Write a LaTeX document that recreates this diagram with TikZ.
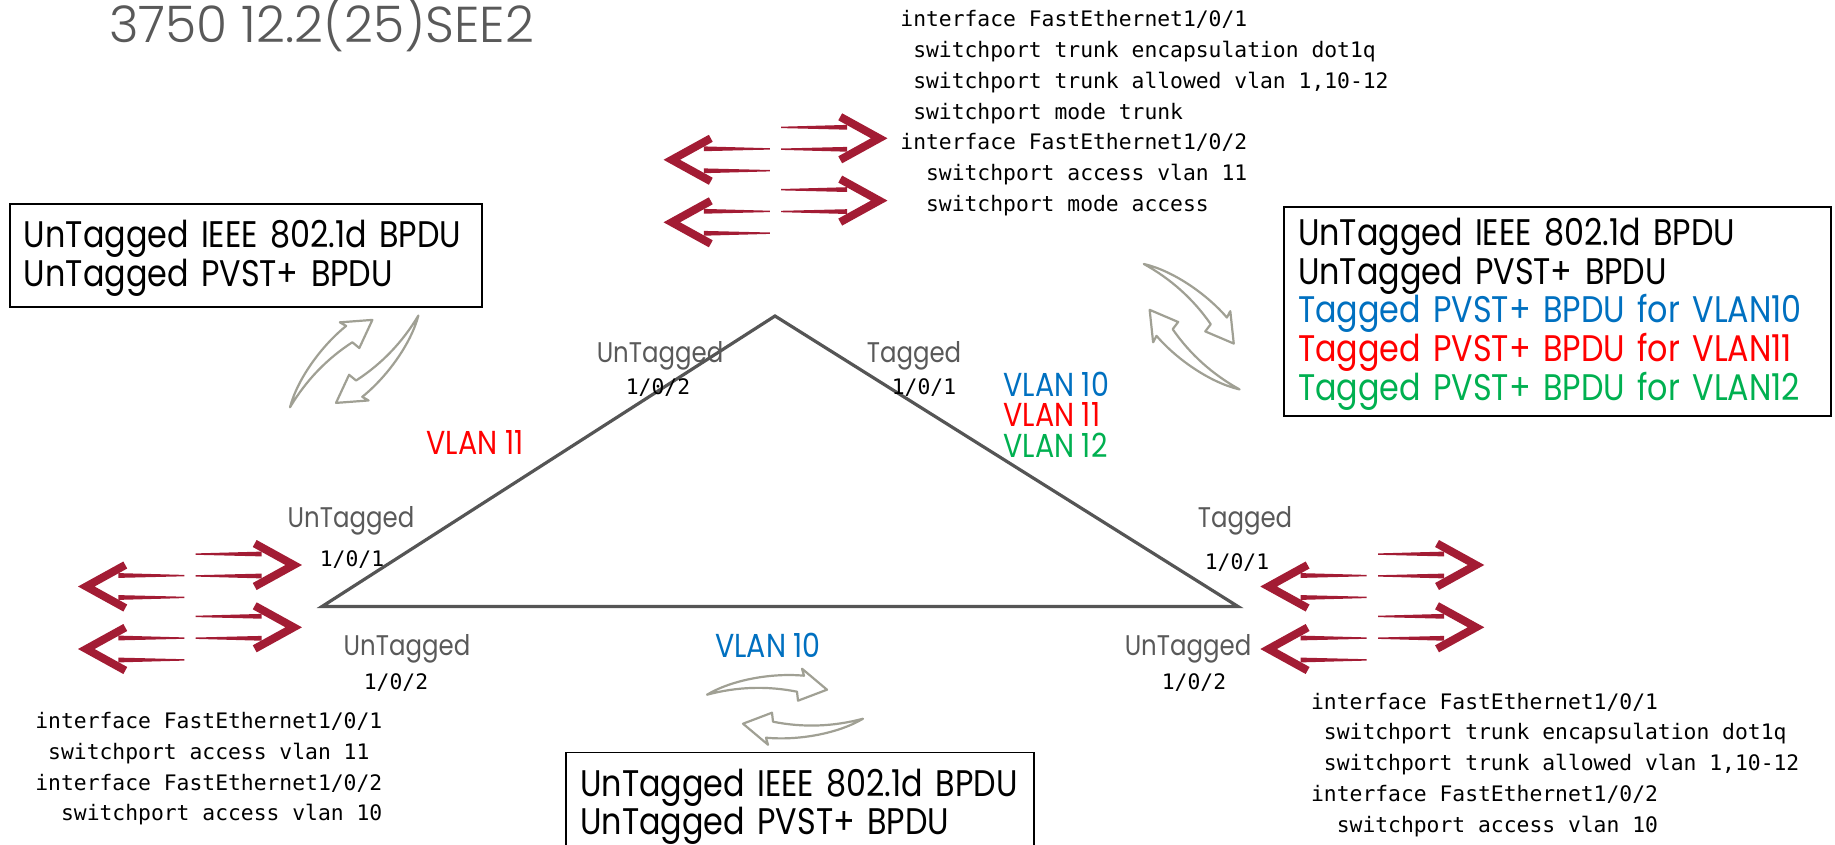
\documentclass[tikz,border=0pt]{standalone}
\usepackage{fontspec}
\setmainfont{Poppins}
\setmonofont{DejaVu Sans Mono}
\newfontfamily\bpdufont{Poppins}[FakeStretch=0.86]
\newfontfamily\titlefont{Poppins Light}
\definecolor{titlegray}{RGB}{89, 89, 89}
\definecolor{edgegray}{RGB}{85, 85, 85}
\definecolor{linkred}{RGB}{163, 28, 52}
\definecolor{swirlgray}{RGB}{160, 160, 148}
\definecolor{vlanblue}{RGB}{0, 112, 192}
\definecolor{vlanred}{RGB}{255, 0, 0}
\definecolor{vlangreen}{RGB}{0, 176, 80}
\newcommand{\cfgsp}{\hphantom{x}}
\newcommand{\bpdutop}{\rule{0pt}{17.5pt}}
\newcommand{\bpdubot}{\rule[-6pt]{0pt}{6pt}}
\setlength{\lineskiplimit}{-20pt}

\begin{document}
\begin{tikzpicture}[x=0.5pt, y=-0.5pt,
    link/.style={draw=edgegray, line width=1.6pt, line join=miter},
    bpdubox/.style={draw=black, line width=0.9pt, align=left, inner xsep=7pt, inner ysep=0pt,
      font=\bpdufont\fontsize{18.5}{19.3}\selectfont},
    portlbl/.style={text=titlegray, font=\bpdufont\fontsize{14.2}{16}\selectfont, inner sep=0pt},
    vlanlbl/.style={font=\bpdufont\fontsize{16.6}{18}\selectfont, inner sep=0pt},
    portnum/.style={font=\ttfamily\fontsize{10.67}{12}\selectfont, inner sep=0pt},
    config/.style={font=\ttfamily\fontsize{10.67}{15.4}\selectfont, align=left, inner sep=0pt, anchor=north west},
    swirlline/.style={draw=swirlgray, line width=1.1pt, fill=white, line join=round},
    fwdarrow/.pic={
      \draw[linkred, line width=4pt, miter limit=10] (-47,-21.5) -- (-8,0) -- (-47,21.5);
      \fill[linkred] (-106,-11.6) -- (-40,-13.4) -- (-40,-8.6) -- (-106,-10.2) -- cycle;
      \fill[linkred] (-106,10.2) -- (-40,8.6) -- (-40,13.4) -- (-106,11.6) -- cycle;
    },
    linkarrows/.pic={
      \pic at (0,0) {fwdarrow};
      \pic at (0,62.3) {fwdarrow};
      \pic[xscale=-1] at (-223.4,21.5) {fwdarrow};
      \pic[xscale=-1] at (-223.4,84) {fwdarrow};
    },
    swirl/.pic={
      \draw[swirlline] (0,0) .. controls (25,-15) and (65,-22) .. (97,-19) -- (95,-26) -- (120,-5)
        -- (91,6) -- (90,-3) .. controls (60,-9) and (30,-8) .. cycle;
    },
    swirlpair/.pic={
      \pic[transform shape] at (-78,-12) {swirl};
      \pic[transform shape, rotate=180] at (78,12) {swirl};
    }]
  \useasboundingbox (0,0) rectangle (1835,845);
  \clip (0,0) rectangle (1835,845);

  % title
  \node[anchor=base west, text=titlegray, font=\titlefont\fontsize{25.2}{30}\selectfont, inner sep=0pt] (title) at (109,43) {3750 12.2(25)SEE2};

  % switches
  \coordinate (swtop) at (775,316);
  \coordinate (swleft) at (322,606.5);
  \coordinate (swright) at (1238,606.5);
  \draw[link] (swleft) -- (swtop) -- (swright) -- cycle;

  % traffic arrows
  \pic at (887.2,138.3) {linkarrows};
  \pic at (301.7,565) {linkarrows};
  \pic at (1484,565) {linkarrows};

  % bpdu exchange
  \pic[rotate=44.3] at (354.2,361.4) {swirlpair};
  \pic[rotate=-43.9] at (1191.7,326.7) {swirlpair};
  \pic at (785,706.7) {swirlpair};

  % configs
  \node[config] (cfgTop) at (900,10) {interface FastEthernet1/0/1\\
    \cfgsp switchport trunk encapsulation dot1q\\
    \cfgsp switchport trunk allowed vlan 1,10-12\\
    \cfgsp switchport mode trunk\\
    interface FastEthernet1/0/2\\
    \cfgsp\cfgsp switchport access vlan 11\\
    \cfgsp\cfgsp switchport mode access};
  \node[config] (cfgLeft) at (35,711.8) {interface FastEthernet1/0/1\\
    \cfgsp switchport access vlan 11\\
    interface FastEthernet1/0/2\\
    \cfgsp\cfgsp switchport access vlan 10};
  \node[config] (cfgRight) at (1310.7,692.5) {interface FastEthernet1/0/1\\
    \cfgsp switchport trunk encapsulation dot1q\\
    \cfgsp switchport trunk allowed vlan 1,10-12\\
    interface FastEthernet1/0/2\\
    \cfgsp\cfgsp switchport access vlan 10};

  % bpdu boxes
  \node[bpdubox, text width=222pt, minimum height=51.5pt] (bpduLeft) at (246,255.7)
    {\bpdutop UnTagged IEEE 802.1d BPDU\\UnTagged PVST+ BPDU\bpdubot};
  \node[bpdubox, text width=259.5pt, minimum height=104.5pt] (bpduRight) at (1557.5,311.3)
    {\bpdutop UnTagged IEEE 802.1d BPDU\\UnTagged PVST+ BPDU\\
     \textcolor{vlanblue}{Tagged PVST+ BPDU for VLAN10}\\
     \textcolor{vlanred}{Tagged PVST+ BPDU for VLAN11}\\
     \textcolor{vlangreen}{Tagged PVST+ BPDU for VLAN12}\bpdubot};
  \node[bpdubox, text width=220pt, minimum height=51.5pt] (bpduBottom) at (800.3,804)
    {\bpdutop UnTagged IEEE 802.1d BPDU\\UnTagged PVST+ BPDU\bpdubot};

  % port labels
  \node[portlbl] (topUn) at (660,355.5) {UnTagged};
  \node[portnum] (topUnNum) at (658,387.5) {1/0/2};
  \node[portlbl] (topTg) at (914,355.5) {Tagged};
  \node[portnum] (topTgNum) at (924,387.5) {1/0/1};
  \node[portlbl] (leftUp) at (351,520.5) {UnTagged};
  \node[portnum] (leftUpNum) at (352,560) {1/0/1};
  \node[portlbl] (leftDn) at (407,648.5) {UnTagged};
  \node[portnum] (leftDnNum) at (396,683) {1/0/2};
  \node[portlbl] (rightUp) at (1245,520.5) {Tagged};
  \node[portnum] (rightUpNum) at (1237,563) {1/0/1};
  \node[portlbl] (rightDn) at (1188,648.5) {UnTagged};
  \node[portnum] (rightDnNum) at (1194,683) {1/0/2};

  % vlans
  \node[vlanlbl, text=vlanred] (vlanLeft) at (475,442) {VLAN 11};
  \node[vlanlbl, text=vlanblue] (vlanBase) at (768,645) {VLAN 10};
  \node[vlanlbl, text=vlanblue, anchor=west] (vlanTrunkA) at (1003,384) {VLAN 10};
  \node[vlanlbl, text=vlanred, anchor=west] (vlanTrunkB) at (1003,414) {VLAN 11};
  \node[vlanlbl, text=vlangreen, anchor=west] (vlanTrunkC) at (1003,445) {VLAN 12};
\end{tikzpicture}
\end{document}
